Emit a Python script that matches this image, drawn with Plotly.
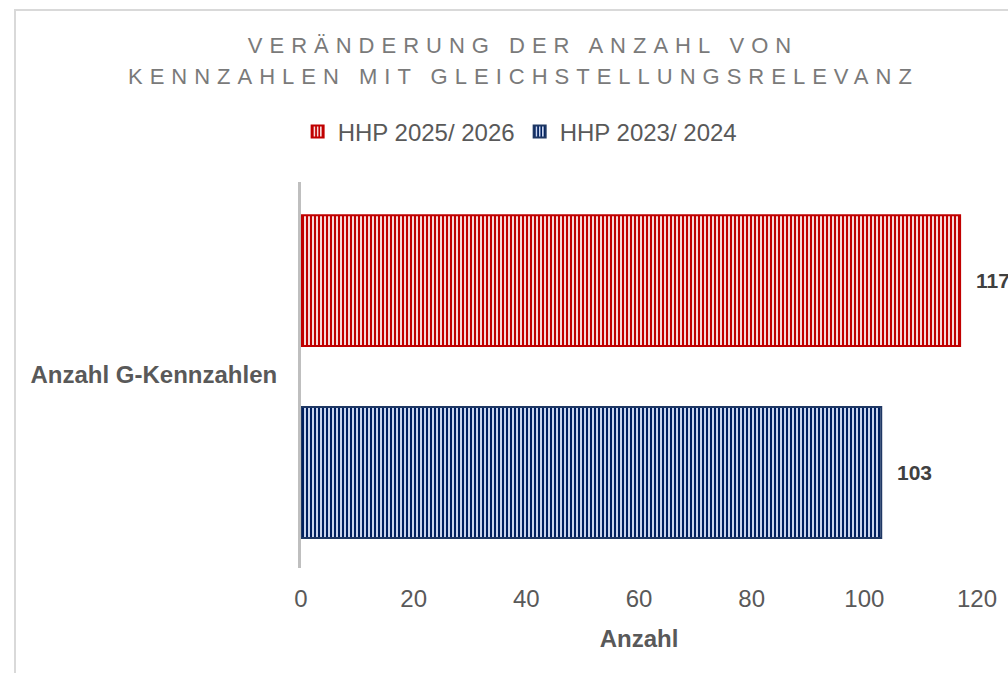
import plotly.graph_objects as go

# ---- data ----
category = ["Anzahl G-Kennzahlen"]
series_names = ["HHP 2025/ 2026", "HHP 2023/ 2024"]
values_2025 = [117]
values_2023 = [103]
x_ticks = [0, 20, 40, 60, 80, 100, 120]
title_lines = ["VERÄNDERUNG DER ANZAHL VON", "KENNZAHLEN MIT GLEICHSTELLUNGSRELEVANZ"]

# ---- styles ----
FONT = "Liberation Sans, Arial, sans-serif"
GRAY = "#595959"
W, H = 1008, 673
L, R, T, B = 301, 31, 182, 105
BAR_W = 0.339
OFF_TOP = 0.075
OFF_BOT = -0.422
TITLE_CX = 523

pw, ph = W - L - R, H - T - B
def px_x(p): return (p - L) / pw
def px_y(p): return (H - B - p) / ph

fig = go.Figure()
fig.add_trace(go.Bar(
    y=category, x=values_2025, orientation="h", name=series_names[0],
    width=BAR_W, offset=OFF_TOP,
    marker=dict(color="#c00000", line=dict(color="#c00000", width=2),
                pattern=dict(shape="|", fgcolor="#c00000", bgcolor="#f7d9d9",
                             size=4, solidity=0.5, fillmode="replace")),
))
fig.add_trace(go.Bar(
    y=category, x=values_2023, orientation="h", name=series_names[1],
    width=BAR_W, offset=OFF_BOT,
    marker=dict(color="#002060", line=dict(color="#1f3864", width=2),
                pattern=dict(shape="|", fgcolor="#002060", bgcolor="#c9d5ee",
                             size=4, solidity=0.5, fillmode="replace")),
))

# second title line (annotation index 0)
fig.add_annotation(x=px_x(TITLE_CX), y=px_y(77), xref="paper", yref="paper",
                   text=title_lines[1], showarrow=False, xanchor="center", yanchor="middle",
                   font=dict(family=FONT, size=22, color="#7a7a7a"))

# data labels
for v, off in ((values_2025[0], OFF_TOP), (values_2023[0], OFF_BOT)):
    fig.add_annotation(x=v, y=off + BAR_W / 2, text=str(v), showarrow=False,
                       xanchor="left", yanchor="middle", xshift=14,
                       font=dict(family=FONT, size=21, color="#404040", weight="bold"))

# outer chart frame
fig.add_shape(type="rect", xref="paper", yref="paper",
              x0=px_x(15), x1=px_x(1030), y0=px_y(690), y1=px_y(10),
              line=dict(color="#d9d9d9", width=2), fillcolor="rgba(0,0,0,0)", layer="below")

fig.update_layout(
    width=W, height=H,
    margin=dict(l=L, r=R, t=T, b=B),
    paper_bgcolor="white", plot_bgcolor="white",
    barmode="overlay",
    title=dict(text=title_lines[0],
               x=TITLE_CX / W, xref="container", xanchor="center",
               y=1 - 45 / H, yref="container", yanchor="middle",
               font=dict(family=FONT, size=22, color="#7a7a7a")),
    legend=dict(orientation="h", x=0.516, xref="container", xanchor="center",
                y=1 - 132 / H, yref="container", yanchor="middle",
                font=dict(family=FONT, size=24, color=GRAY), traceorder="normal"),
    xaxis=dict(range=[0, 120], tickvals=x_ticks, showgrid=False, zeroline=False,
               showline=False, ticks="", ticklabelstandoff=14,
               tickfont=dict(family=FONT, size=24, color=GRAY),
               title=dict(text="Anzahl", standoff=19,
                          font=dict(family=FONT, size=24, color=GRAY, weight="bold"))),
    yaxis=dict(type="category", range=[-0.5, 0.5], showgrid=False, zeroline=False,
               showline=True, linecolor="#bfbfbf", linewidth=3, ticks="",
               ticklabelstandoff=16,
               tickfont=dict(family=FONT, size=24, color=GRAY, weight="bold")),
    showlegend=True,
)

post = ("document.body.style.margin='0';document.body.style.overflow='hidden';"
        "var gd=document.getElementById('{plot_id}');"
        "gd.querySelectorAll('.gtitle').forEach(function(e){e.style.letterSpacing='7px';});"
        "gd.querySelectorAll('.annotation[data-index=\"0\"] .annotation-text')"
        ".forEach(function(e){e.style.letterSpacing='7px';});")
fig.write_html("out.html", post_script=post, config={"displayModeBar": False})
